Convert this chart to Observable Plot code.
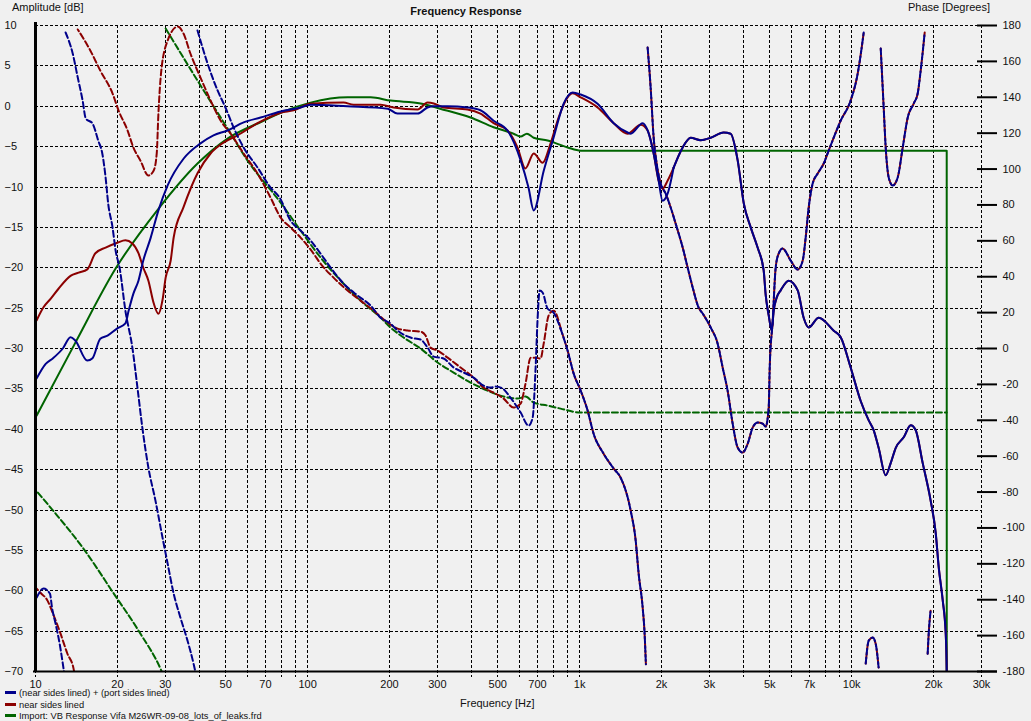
<!DOCTYPE html>
<html><head><meta charset="utf-8">
<script src="https://cdn.jsdelivr.net/npm/d3@7"></script>
<script src="https://cdn.jsdelivr.net/npm/@observablehq/plot@0.6"></script>
<style>
html,body{margin:0;padding:0;background:#f0f0f0;}
#wrap{position:relative;width:1031px;height:721px;overflow:hidden;font-family:"Liberation Sans",Arial,sans-serif;color:#111;}
#wrap svg{position:absolute;left:0;top:0;}
.lbl{position:absolute;font-size:11px;line-height:11px;white-space:nowrap;}
.leg{position:absolute;left:19px;font-size:9.3px;line-height:12px;white-space:nowrap;}
.sw{position:absolute;left:5px;width:11px;height:3px;}
</style></head>
<body>
<div id="wrap">
  <div class="lbl" style="left:12px;top:2px">Amplitude [dB]</div>
  <div class="lbl" style="left:908px;top:2px">Phase [Degrees]</div>
  <div class="lbl" style="left:0;width:932px;text-align:center;top:6px;font-weight:bold">Frequency Response</div>
  <div class="lbl" style="left:460px;top:698px">Frequency [Hz]</div>
  <div class="sw" style="top:691px;background:#00008b"></div>
  <div class="leg" style="top:687px">(near sides lined) + (port sides lined)</div>
  <div class="sw" style="top:703px;background:#8b0000"></div>
  <div class="leg" style="top:699px">near sides lined</div>
  <div class="sw" style="top:714px;background:#006400"></div>
  <div class="leg" style="top:710px">Import: VB Response Vifa M26WR-09-08_lots_of_leaks.frd</div>
</div>
<script>
// ---- ticks ----
const freqTicks = [10,20,30,50,70,100,200,300,500,700,1000,2000,3000,5000,7000,10000,20000,30000];
const freqTickLabels = ["10","20","30","50","70","100","200","300","500","700","1k","2k","3k","5k","7k","10k","20k","30k"];
const gridFreqs = [10,20,30,40,50,60,70,80,90,100,200,300,400,500,600,700,800,900,1000,2000,3000,4000,5000,6000,7000,8000,9000,10000,20000,30000];
const ampTicks = [10,5,0,-5,-10,-15,-20,-25,-30,-35,-40,-45,-50,-55,-60,-65,-70];
const phaseTicks = [180,160,140,120,100,80,60,40,20,0,-20,-40,-60,-80,-100,-120,-140,-160,-180];

// ---- magnitude [Hz, dB] ----
const blueMagLow = [[10.1,-33.7],[10.9,-31.9],[11.6,-31.2],[12.6,-30.0],[13.45,-28.6],[14.0,-29.0],[15.5,-31.5],[16.2,-31.2],[17.3,-28.8],[18.4,-28.4],[20.0,-27.5],[21.4,-26.9],[22.0,-25.3],[22.9,-23.2],[23.9,-21.6],[24.9,-19.1],[26.5,-16.3],[28.3,-12.9],[30.6,-9.8],[35.0,-6.5],[40.4,-4.6],[45.1,-3.6],[50.8,-3.0],[58.2,-2.0],[67.2,-1.4],[79.6,-0.65],[94.3,-0.15],[102.6,0.2],[140,0.0],[197,-0.3],[214,-0.9],[254,-0.9],[276,-0.15],[291,0.0],[327,0.0],[387,-0.15],[432,-0.5],[483,-1.8],[543,-3.0],[607,-6.7],[649,-10.1],[678,-12.9],[738,-8.0],[802,-3.9],[873,0.3],[942,1.7],[1009,1.45],[1164,0.3],[1334,-2.1],[1501,-3.25],[1540,-3.4],[1705,-2.1],[1778,-3.0],[1871,-5.85],[1951,-9.2],[2018,-11.7],[2107,-10.8],[2216,-7.6]];
const redMagLow = [[10.1,-26.5],[10.7,-24.9],[11.4,-23.8],[12.15,-22.6],[13.45,-21.0],[14.4,-20.6],[15.5,-20.2],[16.6,-18.2],[18.1,-17.5],[20.0,-16.9],[21.4,-16.6],[22.7,-17.0],[23.9,-18.2],[24.9,-20.0],[26.0,-21.6],[27.2,-24.4],[28.3,-25.7],[29.3,-24.0],[30.1,-21.2],[31.4,-19.1],[32.2,-16.25],[35.0,-12.5],[39.4,-8.3],[44.0,-5.85],[49.1,-4.5],[55.3,-3.6],[65.5,-2.1],[79.6,-0.8],[88.8,-0.5],[102.6,0.3],[135.6,0.45],[147.6,0.2],[185.5,0.2],[207,-0.15],[254,-0.4],[276,0.45],[291,0.35],[316,-0.15],[387,-0.4],[432,-0.9],[483,-2.1],[543,-3.0],[591,-5.1],[632,-7.7],[678,-5.85],[731,-7.0],[782,-4.6],[837,-1.4],[903,1.1],[942,1.6],[1009,1.1],[1164,-0.15],[1334,-2.1],[1501,-3.4],[1675,-2.3],[1778,-3.0],[1871,-5.85],[1951,-9.2],[2018,-10.2],[2107,-9.2],[2216,-7.6]];
const sharedMagHigh = [[2216,-7.6],[2392,-5.1],[2559,-3.9],[2786,-4.2],[3032,-3.9],[3382,-3.25],[3589,-3.4],[3810,-6.7],[4010,-12.0],[4254,-15.0],[4510,-17.5],[4746,-20.3],[4830,-23.4],[4954,-25.9],[5082,-27.8],[5168,-25.3],[5300,-23.7],[5483,-22.8],[5864,-21.6],[6331,-22.8],[6660,-26.2],[6949,-27.4],[7563,-26.2],[8590,-27.8],[9113,-28.6],[9911,-32.35],[10790,-36.5],[11550,-38.9],[12040,-40.1],[12560,-42.3],[13335,-45.7],[13910,-44.2],[14520,-42.3],[15530,-41.0],[16480,-39.5],[17180,-40.1],[18240,-44.2],[19500,-48.8],[20370,-52.9],[20890,-57.1],[21610,-61.2],[22160,-65.3],[22350,-70],[22500,-80]];
const greenMag = [[10.1,-38.3],[14.0,-29.3],[19.7,-20.1],[28.3,-12.7],[39.4,-7.1],[50.8,-4.0],[68.9,-1.8],[79.6,-0.8],[102.6,0.45],[140.3,1.1],[170.6,1.1],[201.8,0.7],[260.2,0.35],[307,-0.3],[397.3,-1.4],[482.8,-2.6],[571.6,-3.4],[606.7,-3.75],[640,-3.4],[677.6,-3.9],[762.5,-4.25],[903,-5.1],[1009,-5.5],[22350,-5.5],[22360,-80]];

// ---- phase [Hz, degrees], wrapped segments ----
const bluePhaseLow = [
  [[10.1,-138.8],[10.7,-133.8],[11.3,-136.6],[11.5,-144.4],[11.85,-153.3],[12.15,-161.1],[12.6,-175.6],[12.75,-181]],
  [[12.9,176.1],[13.7,164.4],[14.3,151.0],[14.9,138.2],[15.3,128.2],[16.2,125.4],[17.0,115.9],[17.6,108.7],[18.1,95.3],[18.5,80.8],[19.2,67.4],[19.7,54.6],[20.4,44.5],[21.4,21.1],[22.7,0.5],[23.7,-21.8],[24.7,-44.1],[26.0,-66.4],[27.6,-84.8],[29.3,-105.4],[30.6,-119.9],[32.2,-136.6],[34.1,-150.0],[36.2,-162.8],[38.1,-175.6],[38.8,-181]],
  [[39.4,177.2],[42.9,158.8],[46.7,143.8],[49.9,134.3],[53.5,123.1],[58.2,112.0],[65.5,100.8],[73.1,89.7],[78.9,84.1],[86.6,71.3],[94.3,65.7],[102.6,60.2],[111.6,52.9],[121.5,45.1],[135.6,36.2],[152.7,29.5],[170.6,23.9],[185.5,17.2],[201.8,13.9],[214.2,10.0],[239.2,6.1],[260.2,5.0],[276.2,0.5],[290.6,-4.5],[316.2,-5.6],[344.2,-10.6],[374.9,-13.4],[407.4,-16.2],[443.6,-20.7],[470.7,-21.8],[491,-21.2],[521,-22.3],[557,-27.4],[607,-35.7],[649,-43.0],[672,-38.5],[689,-10.6],[701,17.2],[713,32.3],[731,31.2],[762,22.3],[802,20.0],[851,11.1]]
];
const redPhaseLow = [
  [[10.1,-133.8],[10.43,-136.1],[11.07,-140.5],[11.6,-147.8],[12.36,-158.9],[13.1,-170.1],[13.8,-178.4],[13.9,-181]],
  [[14.3,177.8],[15.9,166.1],[17.3,154.9],[19.2,142.1],[20.2,132.6],[21.8,121.5],[22.9,112.0],[24.3,104.7],[26.0,96.4],[27.2,99.2],[27.9,108.7],[28.3,130.9],[29.0,154.9],[30.6,171.6],[33.3,179.4],[35.0,175.5],[37.1,164.4],[40.4,151.0],[44.0,138.2],[47.9,127.0],[52.1,119.8],[58.2,108.7],[65.5,97.5],[73.1,84.1],[79.6,73.0],[86.6,67.4],[94.3,61.8],[105.2,52.9],[111.6,47.3],[124.6,39.5],[140.3,32.3],[156.6,26.7],[174.9,21.1],[196.8,14.4],[214.2,11.1],[233.3,10.0],[260.2,9.4],[271.5,7.2],[283.2,0.5],[300.5,-1.1],[327.2,-5.1],[365.2,-10.6],[407.4,-16.2],[443.6,-21.8],[482.8,-24.6],[525.6,-27.9],[571.6,-32.9],[606.7,-30.7],[632.5,-19.6],[660.6,-5.1],[689.2,-5.1],[718.6,-5.6],[737.7,2.7],[769.4,18.4],[802,21.1],[851,11.5]]
];
const sharedPhaseHigh = [
  [[851,11.1],[903,-1.1],[951,-14.0],[1009,-23.5],[1070,-34.6],[1125,-47.4],[1225,-58.6],[1334,-66.9],[1415,-72.0],[1540,-90.3],[1607,-107.1],[1648,-125.5],[1705,-144.4],[1733,-158.9],[1752,-176]],
  [[1778,167.7],[1824,145.4],[1871,117.6],[1919,103.1],[1986,91.9],[2070,86.4],[2161,78.6],[2254,69.6],[2392,56.3],[2495,45.1],[2603,34.0],[2738,22.8],[2834,19.5],[3032,11.7],[3216,2.7],[3355,-10.6],[3499,-23.5],[3652,-41.9],[3810,-55.2],[3975,-58.0],[4148,-53.0],[4325,-44.1],[4510,-41.3],[4706,-41.9],[4830,-43.5],[4954,-32.9],[4997,-10.6],[5125,15.6],[5256,45.1],[5391,52.9],[5576,55.7],[5967,49.0],[6331,44.0],[6606,49.0],[6774,61.8],[6949,78.6],[7187,91.9],[7499,97.5],[7891,103.1],[8231,110.3],[9113,127.0],[9911,138.2],[10520,153.2],[11070,176.1]],
  [[11260,-175.6],[11550,-162.8],[11940,-161.1],[12250,-164.5],[12560,-177.8]],
  [[12785,167.2],[13110,134.3],[13335,112.0],[13680,95.3],[14150,90.8],[14760,95.3],[15400,112.0],[16070,128.7],[16900,136.5],[17480,142.1],[17930,154.9],[18550,176.1]],
  [[19020,-170.1],[19190,-158.9],[19500,-146.1]]
];
const greenPhase = [
  [[10.2,-80.3],[11.6,-90.3],[15.0,-111.5],[19.4,-136.6],[24.3,-158.9],[28.8,-178.4],[29.3,-181]],
  [[30.1,178.3],[39.4,149.3],[50.8,122.6],[60.2,104.7],[79.6,81.3],[94.3,65.7],[111.6,50.7],[132.2,37.9],[156.6,26.7],[185.5,17.2],[201.8,11.7],[225.4,6.1],[260.2,0],[300.5,-7.8],[344.2,-13.4],[397.3,-19.0],[459,-23.5],[525.6,-26.8],[591.5,-27.9],[632.5,-26.8],[677.6,-30.1],[762.5,-31.8],[851,-33.5],[1009,-35.7],[22350,-35.7]]
];

const BLUE = "#00008b", RED = "#8b0000", GREEN = "#006400";
const toDb = p => -70 + (p + 180) * 80 / 360;
const fromDb = d => (d + 70) * 360 / 80 - 180;
function rows(segments, name) {
  const out = [];
  segments.forEach((seg, i) => seg.forEach(([f, v]) => out.push({f, v, seg: name + i})));
  return out;
}
const solid = (data, color) => Plot.line(data, {x: "f", y: "v", z: "seg", stroke: color, strokeWidth: 2, curve: "monotone-x", clip: true});
const dashed = (data, color, off) => Plot.line(data, {x: "f", y: d => toDb(d.v), z: "seg", stroke: color, strokeWidth: 2, strokeDasharray: "6,3", strokeDashoffset: off, curve: "monotone-x", clip: true});

const chart = Plot.plot({
  width: 1031, height: 721,
  marginLeft: 35, marginRight: 50, marginTop: 25, marginBottom: 50,
  style: {background: "#f0f0f0", fontFamily: "Liberation Sans, Arial, sans-serif", fontSize: "11px", color: "#111", overflow: "visible"},
  x: {type: "log", domain: [10, 30000], axis: null},
  y: {domain: [-70, 10]},
  marks: [
    Plot.ruleY(ampTicks, {stroke: "#000", strokeWidth: 1, strokeDasharray: "3,2", shapeRendering: "crispEdges"}),
    Plot.ruleX(gridFreqs, {stroke: "#000", strokeWidth: 1, strokeDasharray: "3,2", insetBottom: -6, shapeRendering: "crispEdges"}),
    solid(rows([greenMag], "gm"), GREEN),
    dashed(rows(greenPhase, "gp"), GREEN, 0),
    solid(rows([redMagLow, sharedMagHigh], "rm"), RED),
    dashed(rows(redPhaseLow.concat(sharedPhaseHigh), "rp"), RED, 4),
    solid(rows([blueMagLow, sharedMagHigh], "bm"), BLUE),
    dashed(rows(bluePhaseLow.concat(sharedPhaseHigh), "bp"), BLUE, 0),
    Plot.ruleX([10], {stroke: "#000", strokeWidth: 3, insetTop: -3}),
    Plot.ruleY([-70], {stroke: "#000", strokeWidth: 2, insetRight: -16, insetLeft: -2}),
    Plot.axisY(ampTicks, {anchor: "left", tickSize: 0, tickPadding: 0, textAnchor: "start", dx: -31, label: null, fill: "#111"}),
    Plot.axisY(phaseTicks.map(toDb), {anchor: "right", tickSize: 20, tickPadding: 6, dx: -5, strokeWidth: 2, stroke: "#000", label: null, fill: "#111", tickFormat: d => String(Math.round(fromDb(d)))}),
    Plot.text(freqTicks, {x: d => d, frameAnchor: "bottom", dy: 13, text: (d, i) => freqTickLabels[i], lineAnchor: "middle", fill: "#111", fontSize: 11})
  ]
});
document.getElementById("wrap").prepend(chart);
</script>
</body></html>
